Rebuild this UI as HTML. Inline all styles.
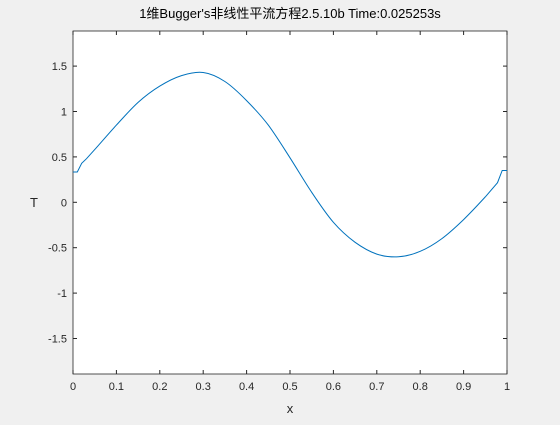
<!DOCTYPE html>
<html><head><meta charset="utf-8"><style>
body{margin:0;background:#f0f0f0;width:560px;height:420px;overflow:hidden}
svg{font-family:"Liberation Sans","Noto Sans CJK SC",sans-serif}
</style></head><body>
<svg id="c" width="560" height="420">
<rect x="73" y="31" width="434" height="343" fill="#fff" stroke="#262626" stroke-width="0.8"/>
<text x="290" y="18" text-anchor="middle" font-size="13" fill="#000">1维Bugger's非线性平流方程2.5.10b Time:0.025253s</text>
<text x="290" y="413" text-anchor="middle" font-size="13" fill="#262626">x</text>
<text x="34" y="207" text-anchor="middle" font-size="13" fill="#262626">T</text>
<g id="ax"></g>
<path id="line" fill="none" stroke="#0072bd" stroke-width="1"/>
</svg>
<script>
const xTicks=[0,0.1,0.2,0.3,0.4,0.5,0.6,0.7,0.8,0.9,1];
const xTickLabels=["0","0.1","0.2","0.3","0.4","0.5","0.6","0.7","0.8","0.9","1"];
const yTicks=[-1.5,-1,-0.5,0,0.5,1,1.5];
const yTickLabels=["-1.5","-1","-0.5","0","0.5","1","1.5"];
const xs=[0,0.01,0.02,0.031,0.05,0.1,0.15,0.2,0.25,0.3,0.35,0.4,0.45,0.5,0.55,0.6,0.65,0.7,0.75,0.8,0.85,0.9,0.95,0.978,0.989,1.0];
const ts=[0.334,0.334,0.43,0.48,0.58,0.85,1.10,1.28,1.395,1.43,1.33,1.12,0.85,0.49,0.11,-0.22,-0.44,-0.57,-0.60,-0.54,-0.40,-0.19,0.06,0.216,0.35,0.35];
const X=v=>73+v*434, Y=v=>202.3-v*90.8;
const ns="http://www.w3.org/2000/svg", ax=document.getElementById('ax');
function mk(t,a){const e=document.createElementNS(ns,t);for(const k in a)e.setAttribute(k,a[k]);ax.appendChild(e);return e;}
xTicks.forEach((v,i)=>{
 let l=mk('line',{x1:X(v),x2:X(v),y1:374,y2:370,stroke:'#262626'});
 
 
 l=mk('line',{x1:X(v),x2:X(v),y1:31,y2:35,stroke:'#262626'});
 
 
 const t=mk('text',{x:X(v),y:390,'text-anchor':'middle','font-size':'11',fill:'#262626'});
 t.textContent=xTickLabels[i];
 
 
});
yTicks.forEach((v,i)=>{
 let l=mk('line',{x1:73,x2:77,y1:Y(v),y2:Y(v),stroke:'#262626'});
 
 
 l=mk('line',{x1:507,x2:503,y1:Y(v),y2:Y(v),stroke:'#262626'});
 
 
 const t=mk('text',{x:67,y:Y(v)+4,'text-anchor':'end','font-size':'11',fill:'#262626'});
 t.textContent=yTickLabels[i];
 
 
});
const P=xs.map((x,i)=>[X(x),Y(ts[i])]);
let d='M'+P[0][0].toFixed(1)+' '+P[0][1].toFixed(1);
for(let i=0;i<P.length-1;i++){
 const p0=P[Math.max(0,i-1)],p1=P[i],p2=P[i+1],p3=P[Math.min(P.length-1,i+2)];
 if(i<4||i>=P.length-4){d+=' L'+p2[0].toFixed(1)+' '+p2[1].toFixed(1);continue;}
 const c1=[p1[0]+(p2[0]-p0[0])/6,p1[1]+(p2[1]-p0[1])/6];
 const c2=[p2[0]-(p3[0]-p1[0])/6,p2[1]-(p3[1]-p1[1])/6];
 d+=' C'+c1.map(v=>v.toFixed(1)).join(' ')+' '+c2.map(v=>v.toFixed(1)).join(' ')+' '+p2[0].toFixed(1)+' '+p2[1].toFixed(1);
}
document.getElementById('line').setAttribute('d',d);
</script>
</body></html>
